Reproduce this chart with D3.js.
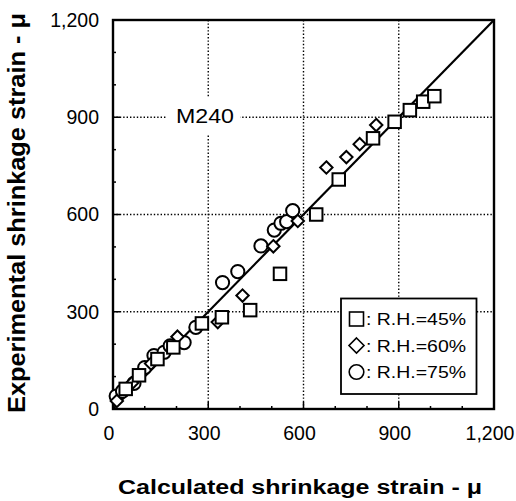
<!DOCTYPE html>
<html>
<head>
<meta charset="utf-8">
<script src="https://cdn.jsdelivr.net/npm/d3@7"></script>
<style>
  html, body { margin: 0; padding: 0; background: #fff; }
  svg { display: block; }
  text { font-family: "Liberation Sans", Arial, Helvetica, sans-serif; fill: #000; }
</style>
</head>
<body>
<svg id="chart" width="516" height="501"></svg>
<script>
// ---- data ----
const majorTicks = [0, 300, 600, 900, 1200];
const tickLabels = ["0", "300", "600", "900", "1,200"];
const minorTicks = [100, 200, 400, 500, 700, 800, 1000, 1100];
const gridValues = [300, 600, 900];

// [calculated, experimental]
const rh45 = [[40, 62], [82, 104], [140, 154], [190, 190], [280, 264], [343, 283], [432, 305], [526, 417],
              [640, 600], [711, 708], [819, 835], [887, 886], [935, 922], [977, 948], [1012, 965]];
const rh60 = [[12, 25], [60, 80], [120, 140], [203, 223], [330, 268], [408, 350], [505, 502], [582, 580],
              [672, 745], [735, 777], [777, 817], [829, 876]];
const rh75 = [[10, 40], [30, 55], [66, 79], [100, 128], [129, 165], [161, 175], [180, 195], [224, 205],
              [261, 252], [345, 390], [393, 424], [466, 503], [508, 552], [529, 573], [547, 578], [566, 612]];
const legendLabels = [": R.H.=45%", ": R.H.=60%", ": R.H.=75%"];
const chartLabel = "M240";
const xTitle = "Calculated shrinkage strain - \u03bc";
const yTitle = "Experimental shrinkage strain - \u03bc";

// ---- layout ----
const svg = d3.select("#chart");
const x = d3.scaleLinear().domain([0, 1200]).range([113, 494]);
const y = d3.scaleLinear().domain([0, 1200]).range([409, 20]);

// gridlines (dotted)
const grid = svg.append("g").attr("stroke", "#000").attr("stroke-width", 1.4)
  .attr("stroke-dasharray", "1.4,2");
grid.selectAll("line.v").data(gridValues).enter().append("line")
  .attr("x1", d => x(d)).attr("x2", d => x(d)).attr("y1", y(0)).attr("y2", y(1200));
grid.selectAll("line.h").data(gridValues).enter().append("line")
  .attr("y1", d => y(d)).attr("y2", d => y(d)).attr("x1", x(0)).attr("x2", x(1200));

// chart label with white background
svg.append("rect").attr("x", 167).attr("y", 98).attr("width", 73).attr("height", 36).attr("fill", "#fff");
svg.append("text").attr("x", 205).attr("y", 123).attr("text-anchor", "middle")
  .attr("font-size", 21).attr("textLength", 58).attr("lengthAdjust", "spacingAndGlyphs").text(chartLabel);

// ticks (inward)
const tk = svg.append("g").attr("stroke", "#000").attr("stroke-width", 1.5);
tk.selectAll("line.xm").data(minorTicks).enter().append("line")
  .attr("x1", d => x(d)).attr("x2", d => x(d)).attr("y1", y(0)).attr("y2", y(0) - 3);
tk.selectAll("line.xM").data(gridValues).enter().append("line")
  .attr("x1", d => x(d)).attr("x2", d => x(d)).attr("y1", y(0)).attr("y2", y(0) - 7);
tk.selectAll("line.ym").data(minorTicks).enter().append("line")
  .attr("y1", d => y(d)).attr("y2", d => y(d)).attr("x1", x(0)).attr("x2", x(0) + 3);
tk.selectAll("line.yM").data(gridValues).enter().append("line")
  .attr("y1", d => y(d)).attr("y2", d => y(d)).attr("x1", x(0)).attr("x2", x(0) + 7);

// diagonal line y = x
svg.append("line").attr("x1", x(0)).attr("y1", y(0)).attr("x2", x(1200)).attr("y2", y(1200))
  .attr("stroke", "#000").attr("stroke-width", 2.2);

// frame
svg.append("rect").attr("x", x(0)).attr("y", y(1200)).attr("width", x(1200) - x(0)).attr("height", y(0) - y(1200))
  .attr("fill", "none").attr("stroke", "#000").attr("stroke-width", 2.4);

// tick labels
svg.append("g").selectAll("text").data(majorTicks).enter().append("text")
  .attr("x", d => x(d) - 4).attr("y", 440).attr("text-anchor", "middle").attr("font-size", 19.5)
  .text((d, i) => tickLabels[i]);
svg.append("g").selectAll("text").data(majorTicks).enter().append("text")
  .attr("x", 99).attr("y", d => y(d)).attr("dy", "0.35em").attr("text-anchor", "end").attr("font-size", 19.5)
  .text((d, i) => tickLabels[i]);

// markers
const pts = svg.append("g").attr("fill", "#fff").attr("stroke", "#000").attr("stroke-width", 2);
const sq = 12.5, dia = 6.2, cr = 6.6;
function drawSquare(g, cx, cy) {
  g.append("rect").attr("x", cx - sq / 2).attr("y", cy - sq / 2).attr("width", sq).attr("height", sq);
}
function drawDiamond(g, cx, cy) {
  g.append("path").attr("d", `M${cx},${cy - dia}L${cx + dia},${cy}L${cx},${cy + dia}L${cx - dia},${cy}Z`);
}
function drawCircle(g, cx, cy) {
  g.append("circle").attr("cx", cx).attr("cy", cy).attr("r", cr);
}
rh75.forEach(d => drawCircle(pts, x(d[0]), y(d[1])));
rh60.forEach(d => drawDiamond(pts, x(d[0]), y(d[1])));
rh45.forEach(d => drawSquare(pts, x(d[0]), y(d[1])));

// legend
const lg = svg.append("g");
lg.append("rect").attr("x", 341).attr("y", 298.5).attr("width", 135.5).attr("height", 95.5)
  .attr("fill", "#fff").attr("stroke", "#000").attr("stroke-width", 1.8);
const lgPts = lg.append("g").attr("fill", "#fff").attr("stroke", "#000").attr("stroke-width", 1.6);
const rowY = [319, 345.5, 372];
function drawSquareL(g, cx, cy) {
  g.append("rect").attr("x", cx - 7).attr("y", cy - 7).attr("width", 14).attr("height", 14);
}
drawSquareL(lgPts, 356.5, rowY[0]);
lgPts.append("path").attr("d", `M356.5,${rowY[1] - 7.5}L364,${rowY[1]}L356.5,${rowY[1] + 7.5}L349,${rowY[1]}Z`);
lgPts.append("circle").attr("cx", 356.5).attr("cy", rowY[2]).attr("r", 7.3);
lg.selectAll("text").data(legendLabels).enter().append("text")
  .attr("x", 366).attr("y", (d, i) => rowY[i] + 6.3).attr("font-size", 17)
  .attr("textLength", 100).attr("lengthAdjust", "spacingAndGlyphs").text(d => d);

// axis titles
svg.append("text").attr("x", 300).attr("y", 494).attr("text-anchor", "middle")
  .attr("font-size", 19.5).attr("font-weight", "bold")
  .attr("textLength", 364).attr("lengthAdjust", "spacingAndGlyphs").text(xTitle);
svg.append("text").attr("transform", "translate(25,213) rotate(-90)").attr("text-anchor", "middle")
  .attr("font-size", 23).attr("font-weight", "bold")
  .attr("textLength", 400).attr("lengthAdjust", "spacingAndGlyphs").text(yTitle);
</script>
</body>
</html>
